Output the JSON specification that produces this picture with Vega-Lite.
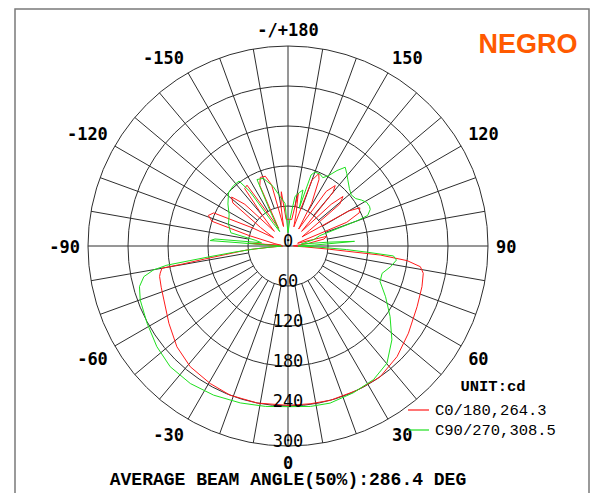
{
  "$schema": "https://vega.github.io/schema/vega-lite/v6.json",
  "width": 574,
  "height": 486,
  "autosize": {"type": "none"},
  "padding": {"left": 15, "top": 9, "right": 7, "bottom": 0},
  "background": "white",
  "config": {"view": {"stroke": "#7a7a7a", "strokeWidth": 1.5}},
  "title": {"text": "AVERAGE BEAM ANGLE(50%):286.4 DEG", "orient": "bottom", "offset": 0, "frame": "group", "anchor": "middle", "dx": -14, "dy": -15.5, "baseline": "middle", "font": "Liberation Mono", "fontSize": 18, "fontWeight": "bold", "color": "#000000"},
  "datasets": {
    "rings": [{"r": 60}, {"r": 120}, {"r": 180}, {"r": 240}, {"r": 300}],
    "spokes": [{"a": 0}, {"a": 10}, {"a": 20}, {"a": 30}, {"a": 40}, {"a": 50}, {"a": 60}, {"a": 70}, {"a": 80}, {"a": 90}, {"a": 100}, {"a": 110}, {"a": 120}, {"a": 130}, {"a": 140}, {"a": 150}, {"a": 160}, {"a": 170}, {"a": 180}, {"a": 190}, {"a": 200}, {"a": 210}, {"a": 220}, {"a": 230}, {"a": 240}, {"a": 250}, {"a": 260}, {"a": 270}, {"a": 280}, {"a": 290}, {"a": 300}, {"a": 310}, {"a": 320}, {"a": 330}, {"a": 340}, {"a": 350}],
    "radlabels": [{"v": 0}, {"v": 60}, {"v": 120}, {"v": 180}, {"v": 240}, {"v": 300}],
    "anglabels": [{"a": 180, "t": "-/+180"}, {"a": 150, "t": "150"}, {"a": 120, "t": "120"}, {"a": 90, "t": "90"}, {"a": 60, "t": "60"}, {"a": 30, "t": "30"}, {"a": 0, "t": "0"}, {"a": -30, "t": "-30"}, {"a": -60, "t": "-60"}, {"a": -90, "t": "-90"}, {"a": -120, "t": "-120"}, {"a": -150, "t": "-150"}],
    "curves": [
      {"s": "C0/180,264.3", "a": -180, "v": 40},
      {"s": "C0/180,264.3", "a": -176, "v": 40},
      {"s": "C0/180,264.3", "a": -173, "v": 82},
      {"s": "C0/180,264.3", "a": -170, "v": 60},
      {"s": "C0/180,264.3", "a": -167, "v": 30},
      {"s": "C0/180,264.3", "a": -165, "v": 95},
      {"s": "C0/180,264.3", "a": -162, "v": 110},
      {"s": "C0/180,264.3", "a": -158, "v": 111},
      {"s": "C0/180,264.3", "a": -155, "v": 100},
      {"s": "C0/180,264.3", "a": -152, "v": 30},
      {"s": "C0/180,264.3", "a": -149, "v": 50},
      {"s": "C0/180,264.3", "a": -146, "v": 110},
      {"s": "C0/180,264.3", "a": -143, "v": 108},
      {"s": "C0/180,264.3", "a": -140, "v": 60},
      {"s": "C0/180,264.3", "a": -137, "v": 30},
      {"s": "C0/180,264.3", "a": -134, "v": 90},
      {"s": "C0/180,264.3", "a": -131, "v": 112},
      {"s": "C0/180,264.3", "a": -128, "v": 105},
      {"s": "C0/180,264.3", "a": -124, "v": 50},
      {"s": "C0/180,264.3", "a": -120, "v": 25},
      {"s": "C0/180,264.3", "a": -117, "v": 60},
      {"s": "C0/180,264.3", "a": -114, "v": 122},
      {"s": "C0/180,264.3", "a": -111, "v": 128},
      {"s": "C0/180,264.3", "a": -108, "v": 120},
      {"s": "C0/180,264.3", "a": -105, "v": 60},
      {"s": "C0/180,264.3", "a": -100, "v": 20},
      {"s": "C0/180,264.3", "a": -96, "v": 10},
      {"s": "C0/180,264.3", "a": -94, "v": 58},
      {"s": "C0/180,264.3", "a": -92, "v": 10},
      {"s": "C0/180,264.3", "a": -89, "v": 8},
      {"s": "C0/180,264.3", "a": -88, "v": 12},
      {"s": "C0/180,264.3", "a": -86, "v": 30},
      {"s": "C0/180,264.3", "a": -84.5, "v": 62},
      {"s": "C0/180,264.3", "a": -82.2, "v": 95},
      {"s": "C0/180,264.3", "a": -81.1, "v": 127},
      {"s": "C0/180,264.3", "a": -80.3, "v": 160},
      {"s": "C0/180,264.3", "a": -80, "v": 192},
      {"s": "C0/180,264.3", "a": -78, "v": 196},
      {"s": "C0/180,264.3", "a": -76.6, "v": 198},
      {"s": "C0/180,264.3", "a": -72, "v": 200},
      {"s": "C0/180,264.3", "a": -66.5, "v": 203},
      {"s": "C0/180,264.3", "a": -57, "v": 213},
      {"s": "C0/180,264.3", "a": -47.8, "v": 225},
      {"s": "C0/180,264.3", "a": -39, "v": 233},
      {"s": "C0/180,264.3", "a": -29.5, "v": 237},
      {"s": "C0/180,264.3", "a": -21.2, "v": 240},
      {"s": "C0/180,264.3", "a": -11, "v": 240},
      {"s": "C0/180,264.3", "a": 0, "v": 239},
      {"s": "C0/180,264.3", "a": 8, "v": 239},
      {"s": "C0/180,264.3", "a": 15.4, "v": 240},
      {"s": "C0/180,264.3", "a": 25.6, "v": 240},
      {"s": "C0/180,264.3", "a": 35.2, "v": 240},
      {"s": "C0/180,264.3", "a": 44.6, "v": 233},
      {"s": "C0/180,264.3", "a": 54.1, "v": 223},
      {"s": "C0/180,264.3", "a": 64.8, "v": 214},
      {"s": "C0/180,264.3", "a": 73.1, "v": 210},
      {"s": "C0/180,264.3", "a": 78.6, "v": 207},
      {"s": "C0/180,264.3", "a": 81.1, "v": 201},
      {"s": "C0/180,264.3", "a": 83, "v": 180},
      {"s": "C0/180,264.3", "a": 84.4, "v": 139},
      {"s": "C0/180,264.3", "a": 85.5, "v": 63},
      {"s": "C0/180,264.3", "a": 87, "v": 25},
      {"s": "C0/180,264.3", "a": 89, "v": 10},
      {"s": "C0/180,264.3", "a": 92, "v": 8},
      {"s": "C0/180,264.3", "a": 97, "v": 30},
      {"s": "C0/180,264.3", "a": 101, "v": 55},
      {"s": "C0/180,264.3", "a": 104, "v": 60},
      {"s": "C0/180,264.3", "a": 106, "v": 15},
      {"s": "C0/180,264.3", "a": 109, "v": 20},
      {"s": "C0/180,264.3", "a": 112, "v": 95},
      {"s": "C0/180,264.3", "a": 115, "v": 118},
      {"s": "C0/180,264.3", "a": 118, "v": 122},
      {"s": "C0/180,264.3", "a": 120, "v": 105},
      {"s": "C0/180,264.3", "a": 123, "v": 25},
      {"s": "C0/180,264.3", "a": 126, "v": 40},
      {"s": "C0/180,264.3", "a": 129, "v": 100},
      {"s": "C0/180,264.3", "a": 132, "v": 111},
      {"s": "C0/180,264.3", "a": 134, "v": 90},
      {"s": "C0/180,264.3", "a": 137, "v": 30},
      {"s": "C0/180,264.3", "a": 140, "v": 105},
      {"s": "C0/180,264.3", "a": 142, "v": 115},
      {"s": "C0/180,264.3", "a": 145, "v": 100},
      {"s": "C0/180,264.3", "a": 148, "v": 30},
      {"s": "C0/180,264.3", "a": 151, "v": 73},
      {"s": "C0/180,264.3", "a": 155, "v": 110},
      {"s": "C0/180,264.3", "a": 157, "v": 118},
      {"s": "C0/180,264.3", "a": 160, "v": 105},
      {"s": "C0/180,264.3", "a": 163, "v": 30},
      {"s": "C0/180,264.3", "a": 166, "v": 50},
      {"s": "C0/180,264.3", "a": 169, "v": 81},
      {"s": "C0/180,264.3", "a": 172, "v": 40},
      {"s": "C0/180,264.3", "a": 176, "v": 40},
      {"s": "C0/180,264.3", "a": 180, "v": 40},
      {"s": "C90/270,308.5", "a": -180, "v": 20},
      {"s": "C90/270,308.5", "a": -178, "v": 30},
      {"s": "C90/270,308.5", "a": -176, "v": 64},
      {"s": "C90/270,308.5", "a": -171, "v": 75},
      {"s": "C90/270,308.5", "a": -166, "v": 92},
      {"s": "C90/270,308.5", "a": -160, "v": 108},
      {"s": "C90/270,308.5", "a": -155, "v": 110},
      {"s": "C90/270,308.5", "a": -153, "v": 60},
      {"s": "C90/270,308.5", "a": -150, "v": 25},
      {"s": "C90/270,308.5", "a": -147, "v": 40},
      {"s": "C90/270,308.5", "a": -145, "v": 100},
      {"s": "C90/270,308.5", "a": -143, "v": 122},
      {"s": "C90/270,308.5", "a": -138, "v": 122},
      {"s": "C90/270,308.5", "a": -132, "v": 120},
      {"s": "C90/270,308.5", "a": -125, "v": 110},
      {"s": "C90/270,308.5", "a": -118, "v": 100},
      {"s": "C90/270,308.5", "a": -110, "v": 95},
      {"s": "C90/270,308.5", "a": -103, "v": 88},
      {"s": "C90/270,308.5", "a": -100, "v": 50},
      {"s": "C90/270,308.5", "a": -97, "v": 40},
      {"s": "C90/270,308.5", "a": -95.5, "v": 110},
      {"s": "C90/270,308.5", "a": -94, "v": 117},
      {"s": "C90/270,308.5", "a": -92, "v": 20},
      {"s": "C90/270,308.5", "a": -89, "v": 10},
      {"s": "C90/270,308.5", "a": -87, "v": 20},
      {"s": "C90/270,308.5", "a": -85, "v": 50},
      {"s": "C90/270,308.5", "a": -83.5, "v": 80},
      {"s": "C90/270,308.5", "a": -82.3, "v": 115},
      {"s": "C90/270,308.5", "a": -81.5, "v": 150},
      {"s": "C90/270,308.5", "a": -81, "v": 184},
      {"s": "C90/270,308.5", "a": -79.9, "v": 205},
      {"s": "C90/270,308.5", "a": -78, "v": 221},
      {"s": "C90/270,308.5", "a": -74.7, "v": 231},
      {"s": "C90/270,308.5", "a": -69.9, "v": 236},
      {"s": "C90/270,308.5", "a": -61.3, "v": 241},
      {"s": "C90/270,308.5", "a": -52.5, "v": 248},
      {"s": "C90/270,308.5", "a": -44.3, "v": 253},
      {"s": "C90/270,308.5", "a": -35.4, "v": 253},
      {"s": "C90/270,308.5", "a": -26.5, "v": 250},
      {"s": "C90/270,308.5", "a": -16.9, "v": 246},
      {"s": "C90/270,308.5", "a": -8, "v": 243},
      {"s": "C90/270,308.5", "a": 0, "v": 241},
      {"s": "C90/270,308.5", "a": 8, "v": 243},
      {"s": "C90/270,308.5", "a": 15, "v": 244},
      {"s": "C90/270,308.5", "a": 24, "v": 241},
      {"s": "C90/270,308.5", "a": 32.6, "v": 238},
      {"s": "C90/270,308.5", "a": 40.2, "v": 230},
      {"s": "C90/270,308.5", "a": 47.9, "v": 210},
      {"s": "C90/270,308.5", "a": 55.4, "v": 186},
      {"s": "C90/270,308.5", "a": 62.5, "v": 165},
      {"s": "C90/270,308.5", "a": 68.9, "v": 148},
      {"s": "C90/270,308.5", "a": 73.8, "v": 147},
      {"s": "C90/270,308.5", "a": 78.6, "v": 157},
      {"s": "C90/270,308.5", "a": 82.6, "v": 164},
      {"s": "C90/270,308.5", "a": 84.6, "v": 159},
      {"s": "C90/270,308.5", "a": 85.5, "v": 120},
      {"s": "C90/270,308.5", "a": 86.5, "v": 88},
      {"s": "C90/270,308.5", "a": 88, "v": 45},
      {"s": "C90/270,308.5", "a": 90, "v": 15},
      {"s": "C90/270,308.5", "a": 92, "v": 40},
      {"s": "C90/270,308.5", "a": 94, "v": 100},
      {"s": "C90/270,308.5", "a": 95.5, "v": 60},
      {"s": "C90/270,308.5", "a": 98, "v": 20},
      {"s": "C90/270,308.5", "a": 104, "v": 40},
      {"s": "C90/270,308.5", "a": 108, "v": 50},
      {"s": "C90/270,308.5", "a": 110, "v": 110},
      {"s": "C90/270,308.5", "a": 111, "v": 128},
      {"s": "C90/270,308.5", "a": 114, "v": 135},
      {"s": "C90/270,308.5", "a": 116, "v": 136},
      {"s": "C90/270,308.5", "a": 119, "v": 135},
      {"s": "C90/270,308.5", "a": 122, "v": 130},
      {"s": "C90/270,308.5", "a": 125, "v": 124},
      {"s": "C90/270,308.5", "a": 129, "v": 122},
      {"s": "C90/270,308.5", "a": 133, "v": 126},
      {"s": "C90/270,308.5", "a": 138, "v": 134},
      {"s": "C90/270,308.5", "a": 141, "v": 140},
      {"s": "C90/270,308.5", "a": 144, "v": 146},
      {"s": "C90/270,308.5", "a": 147, "v": 135},
      {"s": "C90/270,308.5", "a": 150, "v": 122},
      {"s": "C90/270,308.5", "a": 153, "v": 115},
      {"s": "C90/270,308.5", "a": 156, "v": 118},
      {"s": "C90/270,308.5", "a": 160, "v": 118},
      {"s": "C90/270,308.5", "a": 162, "v": 112},
      {"s": "C90/270,308.5", "a": 163.5, "v": 60},
      {"s": "C90/270,308.5", "a": 165, "v": 87},
      {"s": "C90/270,308.5", "a": 168, "v": 82},
      {"s": "C90/270,308.5", "a": 172, "v": 75},
      {"s": "C90/270,308.5", "a": 176, "v": 40},
      {"s": "C90/270,308.5", "a": 180, "v": 20}
    ]
  },
  "layer": [
    {
      "data": {"name": "rings"},
      "mark": {"type": "arc", "filled": false, "stroke": "#2e2e2e", "strokeWidth": 1, "theta": 0, "theta2": 6.2832},
      "encoding": {
        "x": {"datum": 0, "type": "quantitative", "scale": {"domain": [-409.5, 451.5], "nice": false, "zero": false}, "axis": null},
        "y": {"datum": 0, "type": "quantitative", "scale": {"domain": [-373.5, 355.5], "nice": false, "zero": false}, "axis": null},
        "radius": {"field": "r", "type": "quantitative", "stack": null, "scale": {"type": "linear", "domain": [0, 300], "range": [0, 200], "zero": true, "nice": false}}
      }
    },
    {
      "data": {"name": "spokes"},
      "transform": [
        {"calculate": "datum.a % 90 == 0 ? 0 : 60", "as": "r0"},
        {"calculate": "datum.r0 * sin(datum.a * PI / 180)", "as": "x1"},
        {"calculate": "-datum.r0 * cos(datum.a * PI / 180)", "as": "y1"},
        {"calculate": "300 * sin(datum.a * PI / 180)", "as": "x2"},
        {"calculate": "-300 * cos(datum.a * PI / 180)", "as": "y2"}
      ],
      "mark": {"type": "rule", "stroke": "#2e2e2e", "strokeWidth": 1},
      "encoding": {
        "x": {"field": "x1", "type": "quantitative", "scale": {"domain": [-409.5, 451.5], "nice": false, "zero": false}, "axis": null},
        "y": {"field": "y1", "type": "quantitative", "scale": {"domain": [-373.5, 355.5], "nice": false, "zero": false}, "axis": null},
        "x2": {"field": "x2"},
        "y2": {"field": "y2"}
      }
    },
    {
      "data": {"name": "curves"},
      "transform": [
        {"calculate": "datum.v * sin(datum.a * PI / 180)", "as": "px"},
        {"calculate": "-datum.v * cos(datum.a * PI / 180)", "as": "py"}
      ],
      "mark": {"type": "line", "strokeWidth": 1, "interpolate": "linear"},
      "encoding": {
        "x": {"field": "px", "type": "quantitative", "scale": {"domain": [-409.5, 451.5], "nice": false, "zero": false}, "axis": null},
        "y": {"field": "py", "type": "quantitative", "scale": {"domain": [-373.5, 355.5], "nice": false, "zero": false}, "axis": null},
        "order": {"field": "a", "type": "quantitative"},
        "color": {
          "field": "s", "type": "nominal",
          "scale": {"domain": ["C0/180,264.3", "C90/270,308.5"], "range": ["#ff1a1a", "#1ee01e"]},
          "legend": {
            "orient": "none", "legendX": 392, "legendY": 370,
            "title": "UNIT:cd", "titleFont": "Liberation Mono", "titleFontSize": 15.5, "titleFontWeight": "bold", "titleColor": "#000000", "titleAnchor": "middle", "titlePadding": 4,
            "labelFont": "Liberation Mono", "labelFontSize": 15.5, "labelColor": "#000000", "labelOffset": 5, "labelLimit": 0,
            "symbolType": "stroke", "symbolSize": 441, "symbolStrokeWidth": 1.2, "rowPadding": -1, "padding": 0,
            "encode": {
              "symbols": {"update": {"stroke": {"scale": "color", "field": "value"}, "strokeWidth": {"value": 1.2}, "opacity": {"value": 1}}},
              "title": {"update": {"dx": {"value": 12}}}
            }
          }
        }
      }
    },
    {
      "data": {"name": "radlabels"},
      "transform": [{"calculate": "-datum.v", "as": "ry"}],
      "mark": {"type": "text", "font": "DejaVu Sans Mono", "fontSize": 17, "color": "#000000", "align": "center", "baseline": "alphabetic", "dy": 1},
      "encoding": {
        "x": {"datum": 0, "type": "quantitative", "scale": {"domain": [-409.5, 451.5], "nice": false, "zero": false}, "axis": null},
        "y": {"field": "ry", "type": "quantitative", "scale": {"domain": [-373.5, 355.5], "nice": false, "zero": false}, "axis": null},
        "text": {"field": "v", "type": "quantitative", "format": "d"}
      }
    },
    {
      "data": {"name": "anglabels"},
      "transform": [
        {"calculate": "312 * sin(datum.a * PI / 180)", "as": "lx"},
        {"calculate": "-312 * cos(datum.a * PI / 180)", "as": "ly"}
      ],
      "mark": {
        "type": "text", "font": "DejaVu Sans Mono", "fontSize": 17, "fontWeight": "bold", "color": "#000000",
        "align": {"expr": "abs(datum.a) > 20 && abs(datum.a) < 160 ? (datum.a > 0 ? 'left' : 'right') : 'center'"},
        "baseline": {"expr": "abs(datum.a) < 72 ? 'top' : (abs(datum.a) > 108 ? 'bottom' : 'middle')"},
        "dy": 2
      },
      "encoding": {
        "x": {"field": "lx", "type": "quantitative", "scale": {"domain": [-409.5, 451.5], "nice": false, "zero": false}, "axis": null},
        "y": {"field": "ly", "type": "quantitative", "scale": {"domain": [-373.5, 355.5], "nice": false, "zero": false}, "axis": null},
        "text": {"field": "t", "type": "nominal"}
      }
    },
    {
      "data": {"values": [{"t": "NEGRO"}]},
      "mark": {"type": "text", "font": "Liberation Sans", "fontSize": 27, "fontWeight": "bold", "color": "#ff5a00", "align": "center", "baseline": "middle"},
      "encoding": {
        "x": {"datum": 360, "type": "quantitative", "scale": {"domain": [-409.5, 451.5], "nice": false, "zero": false}, "axis": null},
        "y": {"datum": 301.5, "type": "quantitative", "scale": {"domain": [-373.5, 355.5], "nice": false, "zero": false}, "axis": null},
        "text": {"field": "t", "type": "nominal"}
      }
    }
  ]
}
